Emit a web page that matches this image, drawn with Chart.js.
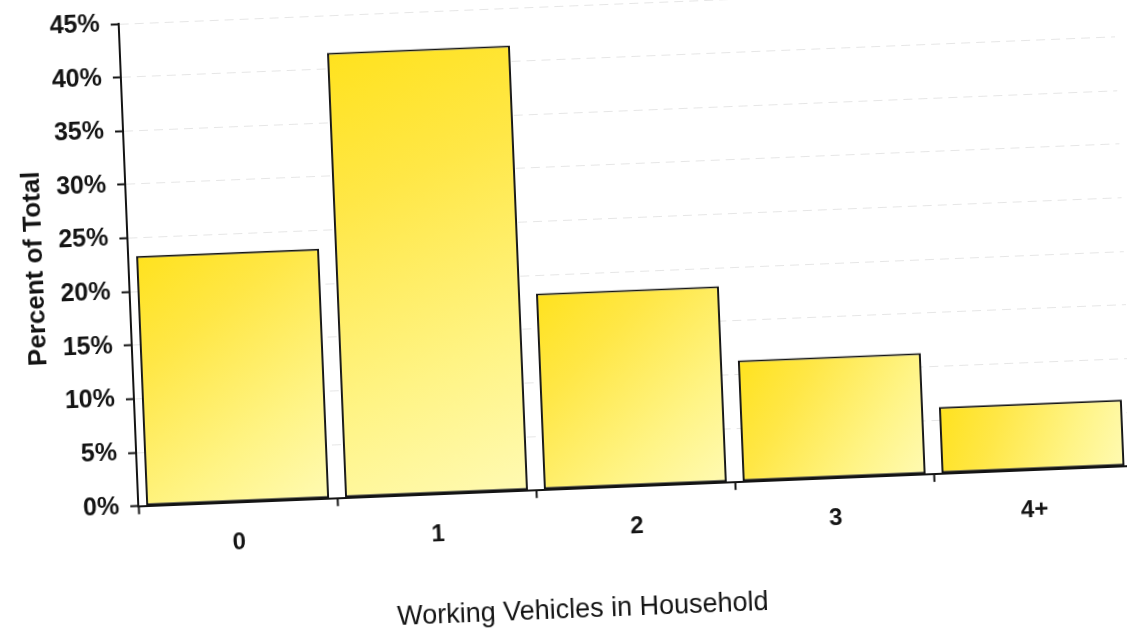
<!DOCTYPE html>
<html>
<head>
<meta charset="utf-8">
<title>Working Vehicles in Household</title>
<script src="https://cdn.jsdelivr.net/npm/chart.js@4/dist/chart.umd.min.js"></script>
<style>
  html, body { margin: 0; padding: 0; background: #fff; overflow: hidden; width: 1127px; height: 636px; }
  /* the printed page sits slightly askew */
  #wrap { position: absolute; left: -20px; top: -20px; width: 1167px; height: 676px;
          transform: rotate(-2.33deg); transform-origin: 583.5px 338px; }
  canvas { display: block; }
</style>
</head>
<body>
<div id="wrap"><canvas id="chart" width="1167" height="676"></canvas></div>
<script>
// Households by number of working vehicles
const categories = ['0', '1', '2', '3', '4+'];
const percentOfTotal = [23.3, 41.5, 18.3, 11.3, 6.2];
const yMin = 0;
const yMax = 45;
const yStep = 5;
const xTitle = 'Working Vehicles in Household';
const yTitle = 'Percent of Total';

const FONT = '"Liberation Sans", Arial, Helvetica, sans-serif';
const INK = '#141414';
const BAR_PCT = 0.92;

// Yellow fill that is strongest toward the upper left of each bar
function barFill(context) {
  const chart = context.chart;
  const xs = chart.scales.x, ys = chart.scales.y;
  if (!chart.chartArea || !xs || !ys || context.type !== 'data') return '#fff06a';
  const cx = xs.getPixelForValue(context.dataIndex);
  const half = xs.width / categories.length * BAR_PCT / 2;
  const top = ys.getPixelForValue(context.raw);
  const base = ys.getPixelForValue(0);
  const g = chart.ctx.createLinearGradient(cx - half, top, cx + half, base);
  g.addColorStop(0, '#ffe21e');
  g.addColorStop(0.3, '#ffe746');
  g.addColorStop(0.7, '#fff485');
  g.addColorStop(1, '#fffab2');
  return g;
}

new Chart(document.getElementById('chart'), {
  type: 'bar',
  data: {
    labels: categories,
    datasets: [{
      data: percentOfTotal,
      backgroundColor: barFill,
      borderColor: INK,
      borderWidth: 2,
      borderSkipped: false,
      barPercentage: BAR_PCT,
      categoryPercentage: 1
    }]
  },
  options: {
    responsive: false,
    animation: false,
    devicePixelRatio: 1,
    layout: { padding: { top: 23, right: 21, bottom: 0, left: 36 } },
    plugins: {
      legend: { display: false },
      tooltip: { enabled: false },
      title: {
        display: true,
        position: 'bottom',
        text: xTitle,
        color: INK,
        font: { family: FONT, size: 27, weight: 'normal' },
        padding: { top: 33, bottom: 29 }
      }
    },
    scales: {
      x: {
        offset: true,
        grid: { display: true, drawOnChartArea: false, drawTicks: true, tickLength: 8, tickColor: INK, tickWidth: 2, offset: true },
        border: { display: true, color: INK, width: 2 },
        ticks: { color: INK, padding: 18, font: { family: FONT, size: 24, weight: 'bold' } }
      },
      y: {
        min: yMin,
        max: yMax,
        afterFit: (scale) => { scale.width = 115; },
        ticks: {
          stepSize: yStep,
          color: INK,
          padding: 11,
          font: { family: FONT, size: 25, weight: 'bold' },
          callback: (v) => v + '%'
        },
        grid: { color: '#e6e6e6', lineWidth: 1, tickColor: INK, tickWidth: 2, tickLength: 8, tickBorderDash: [] },
        border: { display: true, color: INK, width: 2, dash: [9, 6] },
        title: {
          display: true,
          text: yTitle,
          color: INK,
          font: { family: FONT, size: 26, weight: 'bold' },
          padding: { top: 6, bottom: 0 }
        }
      }
    }
  }
});
</script>
</body>
</html>
